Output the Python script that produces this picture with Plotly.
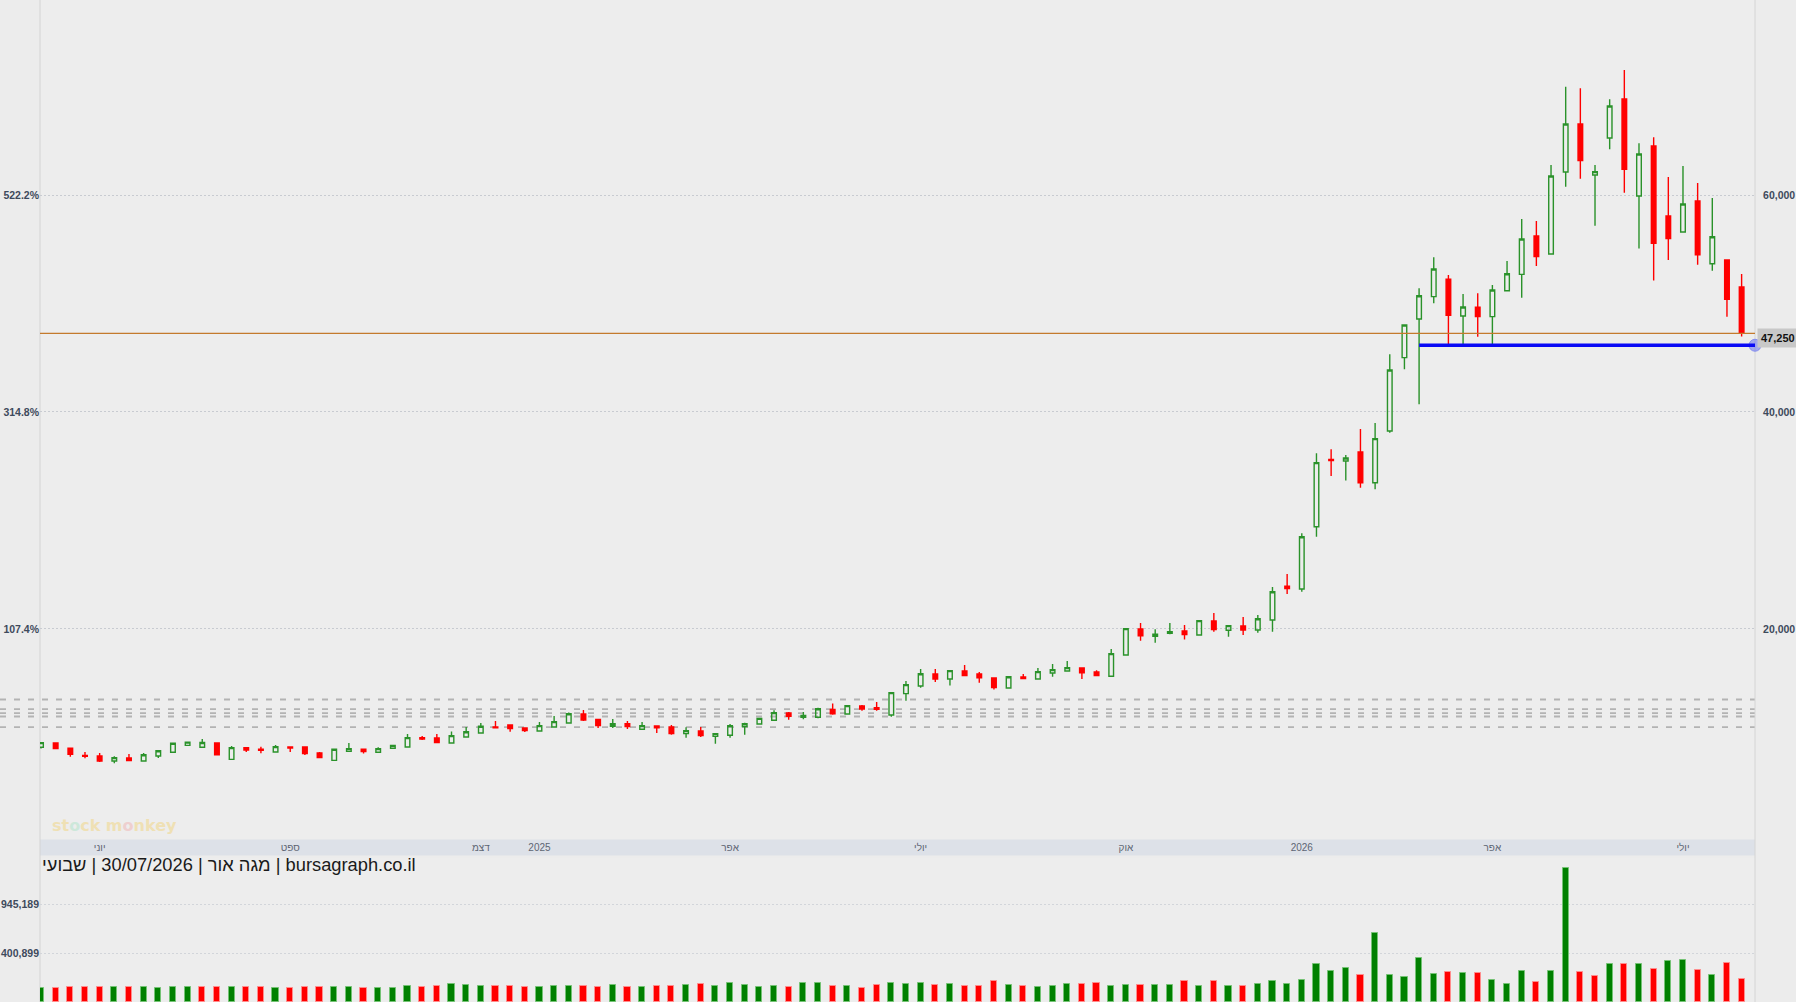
import plotly.graph_objects as go
import pandas as pd

# ---------------- data ----------------
dates = [d.strftime("%Y-%m-%d") for d in pd.date_range("2024-05-09", periods=117, freq="7D")]

opens = [9080, 9480, 8990, 8340, 8280, 7820, 8100, 7820, 8280, 8620,
         9260, 9080, 9480, 7970, 9050, 8900, 8650, 9110, 9110, 8560,
         7880, 8710, 8900, 8620, 8990, 9110, 9970, 9940, 9480, 10030,
         10400, 10950, 11140, 10860, 10590, 10950, 11320, 12150, 11660, 11020,
         11260, 10740, 11050, 10950, 10340, 10590, 10090, 10190, 10990, 11230,
         11570, 12240, 11850, 11850, 12580, 12150, 12890, 12740, 12060, 14030,
         14730, 15840, 15380, 16120, 15840, 15470, 14550, 15560, 15380, 15930,
         16120, 16390, 16030, 15630, 17590, 19990, 19310, 19590, 19810, 19440,
         20730, 19870, 20270, 19900, 20820, 23940, 23680, 29420, 35630, 35480,
         36310, 33480, 38250, 45010, 48570, 50630, 52230, 48850, 49650, 48790,
         51180, 52690, 56220, 54570, 62130, 66550, 61850, 65260, 68860, 59910,
         64520, 58070, 56590, 59450, 53670, 54010, 51520]

highs = [9570, 9510, 9020, 8650, 8560, 8250, 8460, 8560, 8830, 9510,
         9600, 9850, 9510, 9200, 9110, 9140, 9290, 9120, 9140, 8650,
         8960, 9480, 8910, 9080, 9290, 10310, 10120, 10310, 10550, 10950,
         11320, 11510, 11170, 10920, 11420, 11970, 12280, 12520, 11690, 11690,
         11510, 11420, 11080, 11140, 10920, 10950, 10370, 11230, 11350, 11780,
         12490, 12340, 12340, 12740, 13110, 12980, 12980, 13260, 14180, 15200,
         16300, 16300, 16180, 16670, 16030, 15500, 15630, 15840, 16390, 16760,
         17040, 16430, 16180, 18150, 20050, 20540, 19960, 20540, 20360, 20790,
         21470, 20330, 21100, 21280, 23860, 25060, 28810, 36190, 36560, 36030,
         38430, 38980, 45310, 48050, 51400, 54260, 52630, 50880, 50940, 51710,
         53920, 57790, 57610, 62770, 69990, 69840, 62770, 68830, 71530, 64770,
         65320, 61660, 62680, 61110, 59730, 54040, 52720]

lows = [8960, 8920, 8220, 8070, 7730, 7600, 7840, 7790, 8100, 8590,
        9200, 9060, 8370, 7940, 8650, 8530, 8620, 8650, 8370, 8100,
        7850, 8680, 8500, 8590, 8960, 9080, 9750, 9500, 9450, 10000,
        10370, 10860, 10520, 10490, 10550, 10920, 11290, 11510, 10860, 10860,
        10770, 10710, 10400, 10250, 9970, 10030, 9420, 9970, 10250, 11200,
        11510, 11630, 11660, 11750, 12090, 12120, 12460, 12460, 11910, 13380,
        14580, 15100, 14770, 15660, 15040, 14400, 14520, 15380, 15350, 15590,
        16090, 15380, 15660, 15590, 17560, 18910, 18730, 19500, 19010, 19410,
        19740, 19280, 19440, 19650, 19740, 23220, 23430, 28500, 34100, 33670,
        33020, 32870, 38090, 43930, 40700, 50020, 46270, 46020, 46940, 46020,
        51150, 50540, 53460, 54530, 60770, 61510, 57180, 64220, 60220, 55060,
        52110, 54010, 56560, 53580, 53030, 48790, 46950]

closes = [9510, 8960, 8430, 8250, 7820, 8130, 7850, 8400, 8770, 9450,
          9560, 9530, 8400, 9050, 8830, 8800, 9140, 9020, 8500, 8130,
          8900, 8960, 8680, 8960, 9260, 9970, 9850, 9510, 10160, 10520,
          11020, 10890, 10800, 10620, 11080, 11450, 12180, 11600, 11080, 11260,
          10990, 11080, 10890, 10340, 10620, 10160, 10340, 11080, 11260, 11750,
          12280, 11940, 12030, 12640, 12180, 12920, 12610, 12590, 14120, 14860,
          15870, 15380, 16150, 15690, 15500, 14580, 15590, 15410, 16060, 16240,
          16430, 15960, 15690, 17720, 20020, 19370, 19500, 19740, 19470, 20760,
          19930, 20300, 19900, 20940, 23430, 23720, 28500, 35330, 35510, 35760,
          33480, 37540, 43870, 48020, 50720, 53180, 48910, 49680, 48790, 51250,
          52750, 55950, 54320, 61760, 66550, 63170, 62160, 68210, 62370, 63780,
          55550, 55980, 59170, 54500, 56160, 50390, 47250]

volumes = [9000, 9000, 23000, 23000, 23000, 23000, 23000, 23000, 9000, 23000,
           23000, 23000, 23000, 23000, 23000, 23000, 9000, 9000, 23000, 23000,
           23000, 23000, 9000, 9000, 9000, 34000, 23000, 34000, 57000, 45000,
           34000, 34000, 34000, 23000, 23000, 34000, 34000, 34000, 23000, 45000,
           23000, 23000, 34000, 34000, 45000, 57000, 34000, 68000, 45000, 23000,
           34000, 23000, 68000, 68000, 34000, 34000, 12000, 45000, 68000, 57000,
           68000, 45000, 57000, 34000, 34000, 90000, 45000, 34000, 23000, 34000,
           57000, 57000, 68000, 34000, 45000, 45000, 45000, 45000, 90000, 34000,
           90000, 34000, 34000, 57000, 90000, 57000, 101000, 281000, 202000, 236000,
           158000, 627000, 158000, 135000, 348000, 169000, 191000, 180000, 180000, 101000,
           57000, 202000, 79000, 202000, 1350270, 191000, 146000, 281000, 281000, 281000,
           225000, 315000, 326000, 214000, 158000, 292000, 113000]

price_ticks = [20000, 40000, 60000]
pct_labels = ["107.4%", "314.8%", "522.2%"]
vol_ticks = [400899, 945189]

tick_dates = ["2024-06-06", "2024-09-05", "2024-12-05", "2025-01-02", "2025-04-03",
              "2025-07-03", "2025-10-09", "2026-01-01", "2026-04-02", "2026-07-02"]
tick_text = ["יוני", "ספט", "דצמ", "2025", "אפר", "יולי", "אוק", "2026", "אפר", "יולי"]

level_lines = [13490, 12610, 12240, 11920, 10950]
support_level = 46150
support_start = "2026-02-26"

title_text = "bursagraph.co.il | מגה אור | 30/07/2026 | שבועי"

# ---------------- layout geometry ----------------
W, H = 1796, 1002
ML, MR = 40, 41
plot_w = W - ML - MR
price_dom = [1 - 839.6 / H, 1.0]
vol_dom = [0.0, 1 - 858 / H]
band = [1 - 855.6 / H, 1 - 839.6 / H]
price_range = [572, 77983]
vol_range = [-144490, 1464854]

x_start = pd.Timestamp(dates[0]) - pd.Timedelta(days=0.48)
x_end = pd.Timestamp(dates[-1]) + pd.Timedelta(days=6.39)
x_range = [x_start.strftime("%Y-%m-%d %H:%M"), x_end.strftime("%Y-%m-%d %H:%M")]

GREEN = "#2a922a"
RED = "#ff0000"
font_family = "Arial, Liberation Sans, sans-serif"

vol_up = [True] + [closes[i] > closes[i - 1] for i in range(1, len(closes))]
vol_fill = ["#008000" if u else "#ff0000" for u in vol_up]
vol_edge = ["#74c274" if u else "#ff8c8c" for u in vol_up]

fig = go.Figure()

fig.add_trace(go.Candlestick(
    x=dates, open=opens, high=highs, low=lows, close=closes,
    increasing=dict(line=dict(color=GREEN, width=1.4), fillcolor="rgba(0,0,0,0)"),
    decreasing=dict(line=dict(color=RED, width=1.4), fillcolor=RED),
    whiskerwidth=0, xaxis="x", yaxis="y", showlegend=False, hoverinfo="x+y"))

# invisible trace to anchor the percent axis
fig.add_trace(go.Scatter(x=[dates[0]], y=[closes[0]], xaxis="x", yaxis="y3",
                         mode="markers", marker=dict(opacity=0), showlegend=False,
                         hoverinfo="skip"))

fig.add_trace(go.Bar(
    x=dates, y=[v - vol_range[0] for v in volumes], base=vol_range[0],
    width=0.42 * 7 * 86400000,
    marker=dict(color=vol_fill, line=dict(color=vol_edge, width=1)),
    xaxis="x2", yaxis="y2", showlegend=False, customdata=volumes,
    hovertemplate="%{x}<br>%{customdata:,}<extra></extra>"))

# support line end marker
fig.add_trace(go.Scatter(
    x=[x_range[1]], y=[support_level], xaxis="x", yaxis="y", mode="markers",
    marker=dict(size=12, color="rgba(90,100,235,0.5)",
                line=dict(color="rgba(120,130,240,0.8)", width=1)),
    cliponaxis=False, showlegend=False, hoverinfo="skip"))

shapes = []
shapes.append(dict(type="rect", xref="paper", yref="paper", x0=0, x1=1,
                   y0=band[0], y1=band[1], fillcolor="#dde1e8", line=dict(width=0),
                   layer="below"))
for lv in level_lines:
    shapes.append(dict(type="line", xref="paper", yref="y", x0=-ML / plot_w, x1=1,
                       y0=lv, y1=lv, line=dict(color="#b3b3b3", width=1.8, dash="6px,8px"),
                       layer="below"))
shapes.append(dict(type="line", xref="paper", yref="y", x0=0, x1=1,
                   y0=closes[-1], y1=closes[-1], line=dict(color="#c47a2c", width=1.2)))
shapes.append(dict(type="line", xref="x", yref="y", x0=support_start, x1=x_range[1],
                   y0=support_level, y1=support_level, line=dict(color="#0a0af5", width=3.5)))
for xp in (0, 1):
    shapes.append(dict(type="line", xref="paper", yref="paper", x0=xp, x1=xp, y0=0, y1=1,
                       line=dict(color="#d4d4d4", width=1), layer="below"))

annotations = [
    dict(xref="paper", yref="y", x=1, y=closes[-1], xanchor="left", yanchor="middle",
         xshift=2, yshift=-5, text=f"{closes[-1]:,}", showarrow=False,
         font=dict(family=font_family, size=11, color="#111111", weight="bold"),
         bgcolor="#c8c8c8", borderpad=3),
    dict(xref="paper", yref="paper", x=0, y=1 - 864.5 / H, xanchor="left", yanchor="middle",
         text="\u202b" + title_text + "\u202c", showarrow=False,
         font=dict(family=font_family, size=18.3, color="#1a1a1a")),
    dict(xref="paper", yref="paper", x=(114 - ML) / plot_w, y=1 - 825 / H,
         xanchor="center", yanchor="middle", showarrow=False, opacity=0.6,
         text="st<span style='color:#b9e6cf'>o</span>ck m<span style='color:#f0bcbc'>o</span>nkey",
         font=dict(family="DejaVu Sans", size=16, color="#f1d98f", weight="bold")),
]

tickfont_y = dict(family=font_family, size=10.5, color="#3e4a5c", weight="bold")

fig.update_layout(
    width=W, height=H, autosize=False,
    margin=dict(l=ML, r=MR, t=0, b=0),
    paper_bgcolor="#ececec", plot_bgcolor="#ededed",
    showlegend=False, boxgap=0.55, bargap=0,
    xaxis=dict(domain=[0, 1], anchor="y", type="date", range=x_range,
               tickvals=tick_dates, ticktext=tick_text, ticks="",
               tickfont=dict(family=font_family, size=10, color="#5d6573"),
               showgrid=False, zeroline=False, showline=False,
               rangeslider=dict(visible=False), automargin=False),
    xaxis2=dict(domain=[0, 1], anchor="y2", type="date", range=x_range, matches="x",
                showticklabels=False, showgrid=False, zeroline=False, showline=False,
                automargin=False),
    yaxis=dict(domain=price_dom, anchor="x", side="right", range=price_range,
               tickvals=price_ticks, ticktext=[f"{v:,}" for v in price_ticks],
               tickfont=tickfont_y, ticks="outside", ticklen=5,
               tickcolor="rgba(0,0,0,0)", showgrid=True, gridcolor="#c8cbd1",
               griddash="2px,2px", gridwidth=1.2, zeroline=False, showline=False,
               automargin=False),
    yaxis3=dict(overlaying="y", anchor="x", side="left", range=price_range,
                tickvals=price_ticks, ticktext=pct_labels, tickfont=tickfont_y,
                ticks="", showgrid=False, zeroline=False, showline=False,
                automargin=False),
    yaxis2=dict(domain=vol_dom, anchor="x2", side="left", range=vol_range,
                tickvals=vol_ticks, ticktext=[f"{v:,}" for v in vol_ticks],
                tickfont=tickfont_y, ticks="", showgrid=True, gridcolor="#d2d5da",
                griddash="2px,2px", gridwidth=1, zeroline=False, showline=False,
                automargin=False),
    shapes=shapes, annotations=annotations,
)

fig.write_html("out.html", config={"displayModeBar": False},
               post_script="document.body.style.margin='0';document.body.style.overflow='hidden';")
